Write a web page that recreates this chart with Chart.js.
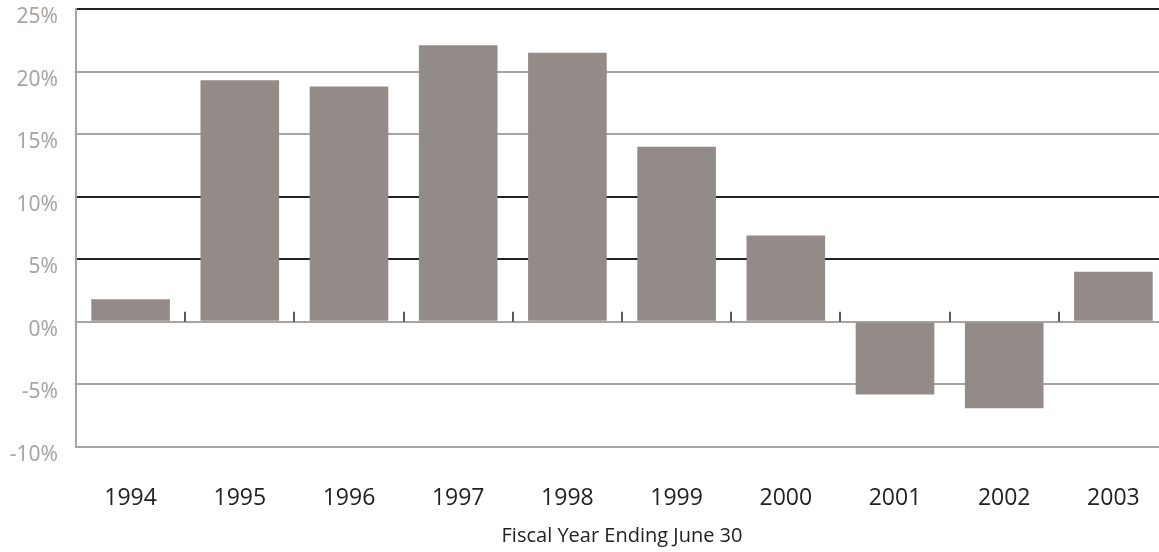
<!DOCTYPE html>
<html>
<head>
<meta charset="utf-8">
<script src="https://cdn.jsdelivr.net/npm/chart.js@4/dist/chart.umd.min.js"></script>
<style>
  html, body { margin: 0; padding: 0; background: #fff; overflow: hidden; }
  #wrap { width: 1168px; height: 552px; }
</style>
</head>
<body>
<div id="wrap"><canvas id="chart"></canvas></div>
<script>
const years = ["1994", "1995", "1996", "1997", "1998", "1999", "2000", "2001", "2002", "2003"]
const growth = [1.8, 19.3, 18.8, 22.1, 21.5, 14.0, 6.9, -5.8, -6.9, 4.0]
const yTicks = [25, 20, 15, 10, 5, 0, -5, -10]
const darkLines = [25, 10, 5]

const barColor = "#938b88"
const grayLine = "#aaa3a1"
const darkLine = "#222222"

// little tick marks on the zero line between the bars
const zeroTicks = {
  id: "zeroTicks",
  afterDatasetsDraw(chart) {
    const x = chart.scales.x
    const y = chart.scales.y
    const ctx = chart.ctx
    const y0 = y.getPixelForValue(0)
    ctx.save()
    ctx.strokeStyle = "#5e5856"
    ctx.lineWidth = 2
    for (let i = 1; i < years.length; i++) {
      const px = Math.round((x.getPixelForValue(i - 1) + x.getPixelForValue(i)) / 2)
      ctx.beginPath()
      ctx.moveTo(px, y0)
      ctx.lineTo(px, y0 - 10)
      ctx.stroke()
    }
    ctx.restore()
  }
}

new Chart(document.getElementById("chart"), {
  type: "bar",
  data: {
    labels: years,
    datasets: [{
      data: growth,
      backgroundColor: barColor,
      borderWidth: 0,
      barPercentage: 0.72,
      categoryPercentage: 1,
    }]
  },
  options: {
    responsive: true,
    maintainAspectRatio: false,
    animation: false,
    layout: { padding: { top: 9, right: 0, bottom: 0, left: 0 } },
    plugins: {
      legend: { display: false },
      tooltip: { enabled: false },
    },
    scales: {
      x: {
        grid: { display: false, drawTicks: false },
        border: { display: false },
        ticks: {
          font: { family: "Open Sans", size: 23, lineHeight: "94px" },
          color: "#222",
          padding: 4,
          maxRotation: 0,
        },
        title: {
          display: true,
          text: "Fiscal Year Ending June 30",
          font: { family: "Open Sans", size: 20 },
          color: "#222",
          padding: { top: 0, bottom: 4 },
        },
        afterFit: (scale) => { scale.height = 105 },
      },
      y: {
        min: -10,
        max: 25,
        afterBuildTicks: (scale) => { scale.ticks = yTicks.map(v => ({ value: v })) },
        grid: {
          color: (c) => darkLines.includes(c.tick.value) ? darkLine : grayLine,
          lineWidth: 2,
          drawTicks: true,
          tickLength: 18,
          tickColor: "rgba(0,0,0,0)",
        },
        border: { color: grayLine, width: 2 },
        ticks: {
          font: { family: "Noto Sans", size: 21, lineHeight: 0.05 },
          color: "#aaa4a2",
          padding: 0,
          labelOffset: 8,
          callback: (v) => v + "%",
        },
        afterFit: (scale) => { scale.width = 76 },
      }
    }
  },
  plugins: [zeroTicks]
})
</script>
</body>
</html>
